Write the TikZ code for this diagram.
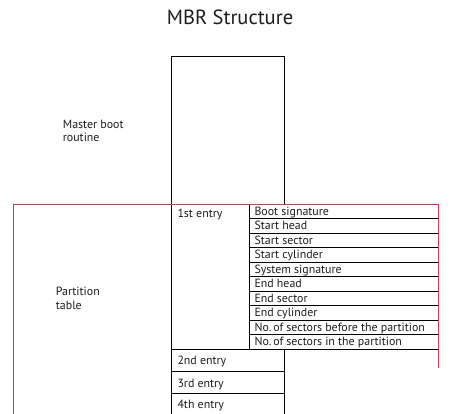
\documentclass[tikz,border=0pt]{standalone}
\usepackage{fontspec}
\setmainfont{PT Sans}
\definecolor{frame}{RGB}{214,58,78}
\definecolor{ink}{RGB}{30,30,30}
\begin{document}
\begin{tikzpicture}[x=1pt,y=-1pt,
  lbl/.style={anchor=base west, inner sep=0pt, text=ink, font=\fontsize{11.9}{14}\selectfont},
  ttl/.style={anchor=base, inner sep=0pt, text=ink, font=\fontsize{20.5}{24}\selectfont},
  bline/.style={draw=black, line width=0.8pt},
  rline/.style={draw=frame, line width=0.9pt}]
\useasboundingbox (0,0) rectangle (462,413);
\fill[white] (0,0) rectangle (462,413);
\begin{scope}
\clip (0,0) rectangle (462,413);
% main column
\draw[bline] (171.3,420) -- (171.3,56.3) -- (284.3,56.3) -- (284.3,204.3);
\draw[bline] (284.3,349.3) -- (284.3,420);
% entry separators
\draw[bline] (171.3,349.3) -- (438.3,349.3);
\draw[bline] (171.3,371.7) -- (284.3,371.7);
\draw[bline] (171.3,393.7) -- (284.3,393.7);
% sub table
\draw[bline] (249.3,204.3) -- (249.3,349.3);
\foreach \i in {1,...,9}{
  \draw[bline] (249.3,204.3+14.5*\i) -- (438.3,204.3+14.5*\i);
}
% red frame
\draw[rline] (438.3,368) -- (438.3,204.3) -- (13.3,204.3) -- (13.3,420);
\end{scope}
% texts
\node[ttl] (title) at (230,24) {MBR Structure};
\node[lbl] (mbr1) at (62.7,128.3) {Master boot};
\node[lbl] (mbr2) at (62.7,141.7) {routine};
\node[lbl] (pt1) at (55.7,295) {Partition};
\node[lbl] (pt2) at (55.7,309) {table};
\node[lbl] (e1) at (177.3,217.3) {1st entry};
\node[lbl] (e2) at (177.3,364.3) {2nd entry};
\node[lbl] (e3) at (177.3,387.3) {3rd entry};
\node[lbl] (e4) at (177.3,408.3) {4th entry};
\foreach \t [count=\i from 0] in {Boot signature,Start head,Start sector,Start cylinder,System signature,End head,End sector,End cylinder,No.\,of sectors before the partition,No.\,of sectors in the partition}{
  \node[lbl] (f\i) at (254.3,204.3+14.5*\i+11) {\t};
}
\end{tikzpicture}
\end{document}
